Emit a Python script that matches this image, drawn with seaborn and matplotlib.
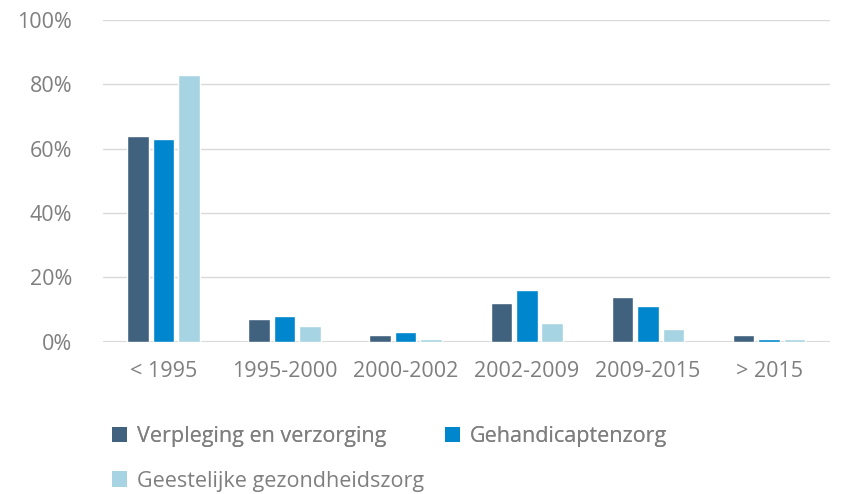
import pandas as pd
import seaborn as sns
import matplotlib.pyplot as plt
from matplotlib.patches import Patch

# data
periods = ["< 1995", "1995-2000", "2000-2002", "2002-2009", "2009-2015", "> 2015"]
verpleging = [64, 7, 2, 12, 14, 2]
gehandicapten = [63, 8, 3, 16, 11, 1]
ggz = [83, 5, 1, 6, 4, 1]
series_names = ["Verpleging en verzorging", "Gehandicaptenzorg", "Geestelijke gezondheidszorg"]
colors = ["#41627e", "#0086cc", "#a6d4e3"]

df = pd.DataFrame({"periode": periods * 3,
                   "sector": [s for s in series_names for _ in periods],
                   "waarde": verpleging + gehandicapten + ggz})

sns.set_theme(style="white")
plt.rcParams['font.family'] = ['Open Sans', 'DejaVu Sans']
text_col = "#7f7f7f"

fig = plt.figure(figsize=(8.5, 4.94), dpi=100)
ax = fig.add_axes([0.121, 0.308, 0.855, 0.652])

sns.barplot(data=df, x="periode", y="waarde", hue="sector", palette=colors,
            width=0.63, gap=0.15, ax=ax, legend=False, saturation=1)

ax.set_ylim(0, 100)
ax.set_yticks(range(0, 101, 20))
ax.set_yticklabels([f"{v}%" for v in range(0, 101, 20)])
ax.set_xlabel("")
ax.set_ylabel("")
ax.set_xlim(-0.5, len(periods) - 0.5)
ax.grid(axis="y", color="#d9d9d9", linewidth=1)
ax.set_axisbelow(True)
for s in ax.spines.values():
    s.set_visible(False)
ax.axhline(0, color="#d9d9d9", linewidth=1.5, zorder=0.5)
ax.tick_params(axis="both", length=0, labelsize=15.5, colors=text_col)
ax.tick_params(axis="x", pad=14)
ax.tick_params(axis="y", pad=22)

# legend flows like text: two entries on the first line, one on the second
handles = [Patch(facecolor=c, edgecolor="none") for c in colors]
leg_kw = dict(loc="upper left", frameon=False, fontsize=15.5, labelcolor=text_col,
              handlelength=0.7, handleheight=0.7, handletextpad=0.45,
              borderaxespad=0)
leg1 = fig.legend(handles[:2], series_names[:2], bbox_to_anchor=(0.122, 0.155 + 0.0),
                  ncol=2, columnspacing=2.7, **leg_kw)
fig.add_artist(leg1)
fig.legend(handles[2:], series_names[2:], bbox_to_anchor=(0.122, 0.065), **leg_kw)

plt.savefig("out.png", dpi=100)
